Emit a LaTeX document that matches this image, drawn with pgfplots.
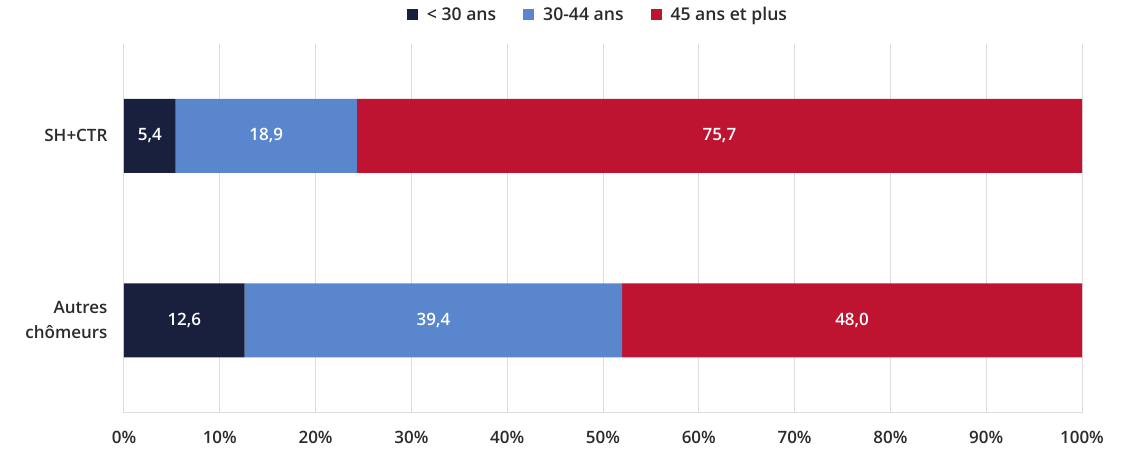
\documentclass[border=0pt]{standalone}
\usepackage{pgfplots}
\pgfplotsset{compat=1.18}
\usepackage{fontspec}
\setmainfont{Open Sans}
\IfFontExistsTF{Open Sans SemiBold}{\newfontfamily\osb{Open Sans SemiBold}}{%
 \IfFontExistsTF{Open Sans Semibold}{\newfontfamily\osb{Open Sans Semibold}}{%
  \IfFontExistsTF{OpenSans-Semibold}{\newfontfamily\osb{OpenSans-Semibold}}{%
   \IfFontExistsTF{OpenSans-SemiBold}{\newfontfamily\osb{OpenSans-SemiBold}}{%
    \newfontfamily\osb{Open Sans}[LetterSpace=2.5]}}}}
\definecolor{cnavy}{HTML}{18203D}
\definecolor{cblue}{HTML}{5A86CE}
\definecolor{cred}{HTML}{BE1432}
\definecolor{cgrid}{HTML}{DDDDDD}
\definecolor{ctext}{HTML}{2B2B2B}
\newcommand{\fs}{\osb\fontsize{17}{25}\selectfont}
\newcommand{\fl}{\osb\fontsize{17.6}{25}\selectfont}
\begin{document}
\begin{tikzpicture}[x=1pt,y=1pt]
\path[use as bounding box] (0,0) rectangle (1136,448);
\pgfplotsset{base/.style={
  at={(124pt,35.5pt)}, anchor=south west, scale only axis,
  width=958pt, height=369pt,
  xmin=0, xmax=100, ymin=-0.5, ymax=1.5,
  /pgf/number format/assume math mode=true,
}}
\begin{axis}[base,
  xbar stacked, bar width=74pt,
  axis x line*=bottom, axis y line*=left,
  x axis line style={cgrid, line width=1pt},
  y axis line style={draw=none},
  xmajorgrids, grid style={cgrid, line width=1pt},
  major tick length=0pt,
  xtick={0,10,...,100},
  xticklabel={\pgfmathprintnumber{\tick}\%},
  xticklabel style={font=\fs, text=ctext, yshift=-15pt},
  ytick={0,1},
  yticklabels={{Autres\\chômeurs},{SH+CTR}},
  yticklabel style={font=\fs, text=ctext, align=right, xshift=-13pt},
  legend style={at={(0.5,1)}, anchor=center, xshift=-5pt, yshift=29pt, draw=none, fill=none,
    font=\fl, text=ctext, legend columns=3,
    /tikz/every odd column/.append style={column sep=7pt},
    /tikz/every even column/.append style={column sep=25pt}},
  legend image code/.code={\fill[#1] (0pt,-5.5pt) rectangle (11pt,5.5pt);},
]
\addplot[fill=cnavy, draw=none] coordinates {(12.6,0) (5.4,1)};
\addlegendentry{< 30 ans}
\addplot[fill=cblue, draw=none] coordinates {(39.4,0) (18.9,1)};
\addlegendentry{30-44 ans}
\addplot[fill=cred, draw=none] coordinates {(48.0,0) (75.7,1)};
\addlegendentry{45 ans et plus}
\end{axis}
\begin{axis}[base, hide axis]
\addplot[only marks, mark=none, point meta=explicit,
  nodes near coords={\pgfmathprintnumber[fixed, fixed zerofill, precision=1, use comma]{\pgfplotspointmeta}},
  every node near coord/.append style={anchor=center, text=white, font=\fs}]
  coordinates {
  (6.3,0) [12.6] (32.3,0) [39.4] (76.0,0) [48.0]
  (2.7,1) [5.4] (14.85,1) [18.9] (62.15,1) [75.7]
  };
\end{axis}
\end{tikzpicture}
\end{document}
